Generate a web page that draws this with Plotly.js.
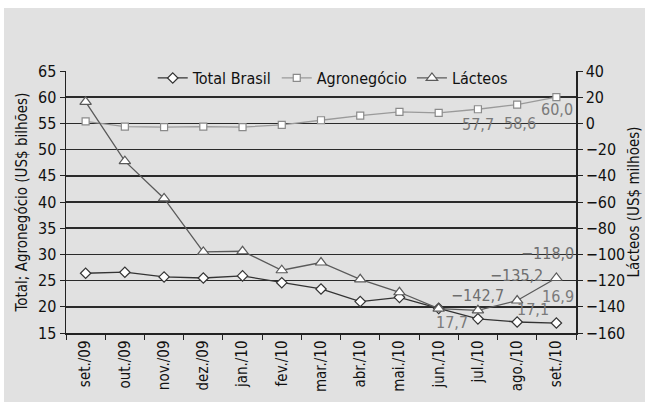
<!DOCTYPE html>
<html>
<head>
<meta charset="utf-8">
<script src="https://cdn.plot.ly/plotly-3.0.1.min.js"></script>
<style>
html,body{margin:0;padding:0;background:#fff;}
#bg{position:absolute;left:4px;top:8px;width:641px;height:394px;background:#e1e1e1;}
#chart{position:absolute;left:0;top:0;width:645px;height:402px;}
</style>
</head>
<body>
<div id="bg"></div>
<div id="chart"></div>
<script>
const months = ["set./09","out./09","nov./09","dez./09","jan./10","fev./10","mar./10","abr./10","mai./10","jun./10","jul./10","ago./10","set./10"];
const totalBrasil = [26.4, 26.6, 25.7, 25.5, 25.9, 24.6, 23.4, 21.0, 21.8, 19.7, 17.7, 17.1, 16.9];
const agronegocio = [55.4, 54.4, 54.3, 54.4, 54.3, 54.7, 55.6, 56.5, 57.2, 57.0, 57.7, 58.6, 60.0];
const lacteos = [16.5, -28.8, -57.3, -98.1, -97.6, -112.1, -106.2, -119.0, -128.9, -141.4, -142.7, -135.2, -118.0];
const leftTicks = [15,20,25,30,35,40,45,50,55,60,65];
const rightTicks = [-160,-140,-120,-100,-80,-60,-40,-20,0,20,40];
// indices of labelled points
const totalLabelIdx = [10, 11, 12];
const agroLabelIdx = [10, 11, 12];
const lactLabelIdx = [10, 11, 12];

const FONT = '"DejaVu Sans Condensed", "Liberation Sans Narrow", Arial, sans-serif';

const traces = [
  {x: months, y: totalBrasil, name: 'Total Brasil', type: 'scatter', mode: 'lines+markers',
   line: {color: '#333333', width: 1.3},
   marker: {symbol: 'diamond', size: 8, color: '#ffffff', line: {color: '#333333', width: 1.2}}},
  {x: months, y: agronegocio, name: 'Agronegócio', type: 'scatter', mode: 'lines+markers',
   line: {color: '#9a9a9a', width: 1.3},
   marker: {symbol: 'square', size: 7, color: '#ffffff', line: {color: '#8a8a8a', width: 1.2}}},
  {x: months, y: lacteos, name: 'Lácteos', type: 'scatter', mode: 'lines+markers', yaxis: 'y2',
   line: {color: '#5a5a5a', width: 1.3},
   marker: {symbol: 'triangle-up', size: 10, color: '#ffffff', line: {color: '#5a5a5a', width: 1.2}}}
];

const fmt = v => v.toFixed(1).replace('.', ',').replace('-', '\u2212');
const totShift = [[-26,-4],[16,13],[2,27]];
const agroShift = [[0,-15],[3,-19],[1,-12]];
const lactShift = [[0,15],[-1,25],[-9,24]];
const annotations = [];
totalLabelIdx.forEach((i,k)=>annotations.push({x: months[i], y: totalBrasil[i], xref:'x', yref:'y', text: fmt(totalBrasil[i]), showarrow:false, xshift: totShift[k][0], yshift: totShift[k][1], font:{family:FONT, size:16, color:'#7a7a7a'}}));
agroLabelIdx.forEach((i,k)=>annotations.push({x: months[i], y: agronegocio[i], xref:'x', yref:'y', text: fmt(agronegocio[i]), showarrow:false, xshift: agroShift[k][0], yshift: agroShift[k][1], font:{family:FONT, size:16, color:'#7a7a7a'}}));
lactLabelIdx.forEach((i,k)=>annotations.push({x: months[i], y: lacteos[i], xref:'x', yref:'y2', text: fmt(lacteos[i]), showarrow:false, xshift: lactShift[k][0], yshift: lactShift[k][1], font:{family:FONT, size:16, color:'#6e6e6e'}}));

const layout = {
  width: 645, height: 402,
  margin: {l: 66, r: 69, t: 71, b: 69, pad: 0},
  paper_bgcolor: 'rgba(0,0,0,0)',
  plot_bgcolor: 'rgba(0,0,0,0)',
  separators: ',.',
  font: {family: FONT, size: 16, color: '#111'},
  showlegend: true,
  legend: {orientation: 'h', x: 0.523, xanchor: 'center', y: 0.973, yanchor: 'middle',
           bgcolor: 'rgba(0,0,0,0)', font: {family: FONT, size: 16, color: '#111'}, traceorder: 'normal'},
  xaxis: {type: 'category', range: [-0.5, 12.5], tickangle: -90, showgrid: false,
          showline: true, linecolor: '#222', linewidth: 1.5,
          ticks: 'outside', tickson: 'boundaries', ticklen: 5, tickcolor: '#222',
          tickfont: {family: FONT, size: 15, color: '#111'}, fixedrange: true},
  yaxis: {range: [15, 65], tickvals: leftTicks, showgrid: true, gridcolor: '#2a2a2a', gridwidth: 1.6,
          zeroline: false, showline: true, linecolor: '#222', linewidth: 1.5,
          ticks: 'outside', ticklen: 5, tickcolor: '#222',
          tickfont: {family: FONT, size: 16, color: '#111'},
          title: {text: 'Total; Agronegócio (US$ bilhões)', font: {family: FONT, size: 15, color: '#111'}, standoff: 6}},
  yaxis2: {range: [-160, 40], tickvals: rightTicks, overlaying: 'y', side: 'right', showgrid: false,
           zeroline: false, showline: true, linecolor: '#222', linewidth: 1.5,
           ticks: 'outside', ticklen: 5, tickcolor: '#222',
           tickfont: {family: FONT, size: 16, color: '#111'},
           title: {text: 'Lácteos (US$ milhões)', font: {family: FONT, size: 15, color: '#111'}, standoff: 4}},
  annotations: annotations
};

Plotly.newPlot('chart', traces, layout, {displayModeBar: false, staticPlot: true});
</script>
</body>
</html>
